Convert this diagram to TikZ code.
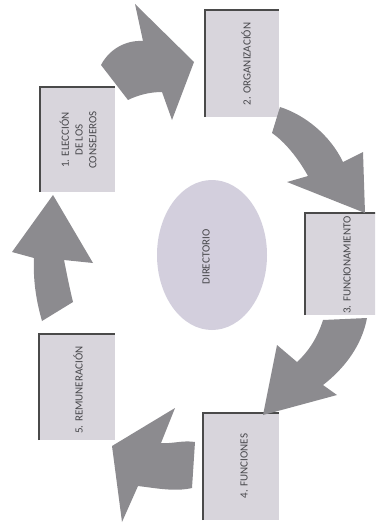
\documentclass[tikz,border=0pt]{standalone}
\usepackage{fontspec}
\setmainfont{Carlito}
\usetikzlibrary{shapes.geometric}
\definecolor{boxfill}{HTML}{D8D5DC}
\definecolor{ellfill}{HTML}{D3CFDD}
\definecolor{arrowgray}{HTML}{8C8B8F}
\definecolor{edgedark}{HTML}{4A4A4A}
\definecolor{txtgray}{HTML}{47474B}
\tikzset{
  blockarrow/.style={fill=arrowgray, draw=none},
  boxlabel/.style={rotate=90, align=center, text=txtgray, font=\fontsize{11}{13.8}\selectfont, inner sep=0pt},
  boxedge/.style={draw=edgedark, line width=1.6pt},
}
\newcommand{\stepbox}[4]{%
  \fill[boxfill] (#1,#2) rectangle (#3,#4);
  \draw[boxedge] (#1,#4) -- (#1,#2) -- (#3,#2);
}
\begin{document}
\begin{tikzpicture}[x=1pt,y=-1pt]
\useasboundingbox (0,0) rectangle (375,524);
\begin{scope}
\clip (0,0) rectangle (375,524);
% boxes
\stepbox{40}{87}{115}{192}
\stepbox{205}{10}{279}{117}
\stepbox{305}{213}{381}{315}
\stepbox{203}{413}{279}{520}
\stepbox{39}{334}{115}{440}
\node[boxlabel] (b1) at (78,140) {1. ELECCIÓN\\DE LOS\\CONSEJEROS};
\node[boxlabel] (b2) at (246,64) {2. ORGANIZACIÓN};
\node[boxlabel] (b3) at (347,265) {3. FUNCIONAMIENTO};
\node[boxlabel] (b4) at (244,466) {4. FUNCIONES};
\node[boxlabel] (b5) at (78,390) {5. REMUNERACIÓN};
% ellipse
\node[ellipse, fill=ellfill, minimum width=110pt, minimum height=150pt, inner sep=0pt] (dir) at (212,255) {};
\node[boxlabel] (dirl) at (206,257) {DIRECTORIO};
% arrow 1 -> 2
\path[blockarrow] (101,65) .. controls (110,48) and (127,40) .. (143,41)
  -- (135,4) -- (194,62) -- (172,120) -- (162,92)
  .. controls (150,92) and (138,95) .. (128,100) -- cycle;
% arrow 2 -> 3
\path[blockarrow] (280,107) .. controls (305,115) and (330,135) .. (343,162)
  -- (363,152) -- (365,213) -- (287,182) -- (308,176)
  .. controls (298,158) and (285,142) .. (272,133) -- cycle;
% arrow 3 -> 4
\path[blockarrow] (323,320) -- (367,318)
  .. controls (362,345) and (345,368) .. (323,385)
  -- (337,395) -- (263,415) -- (277,345) -- (297,362)
  .. controls (310,350) and (318,336) .. (323,320) -- cycle;
% arrow 4 -> 5
\path[blockarrow] (195,442) .. controls (183,440) and (172,444) .. (161,443)
  -- (175,408) -- (112,446) -- (122,522) -- (138,486)
  .. controls (155,488) and (175,492) .. (192,488) -- cycle;
% arrow 5 -> 1
\path[blockarrow] (53,195) -- (93,263) -- (64,260)
  .. controls (67,275) and (70,290) .. (73,302)
  -- (42,321)
  .. controls (36,300) and (33,280) .. (34,258)
  -- (12,252) -- cycle;
\end{scope}
\end{tikzpicture}
\end{document}
